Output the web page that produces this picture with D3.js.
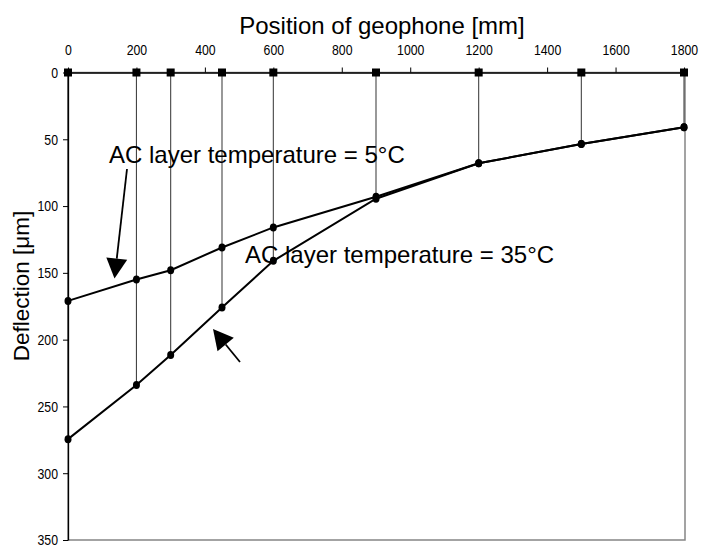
<!DOCTYPE html>
<html><head><meta charset="utf-8">
<script src="https://cdn.jsdelivr.net/npm/d3@7"></script>
<style>body{margin:0;background:#fff}svg{display:block}</style>
</head><body>
<svg id="c" width="701" height="545"></svg>
<script>
const positions = [0, 200, 300, 450, 600, 900, 1200, 1500, 1800];
const defl5 = [171, 155, 148, 131, 116, 93, 68, 53.5, 41];
const defl35 = [274.5, 234, 211.5, 176, 141, 94.5, 68, 53.5, 41];
const xTicks = [0, 200, 400, 600, 800, 1000, 1200, 1400, 1600, 1800];
const yTicks = [0, 50, 100, 150, 200, 250, 300, 350];
const label5 = "AC layer temperature = 5°C";
const label35 = "AC layer temperature = 35°C";

const svg = d3.select("#c");
const x = d3.scaleLinear().domain([0, 1800]).range([68, 684]);
const y = d3.scaleLinear().domain([0, 350]).range([72.5, 540]);
const font = "'Liberation Sans',Arial,sans-serif";
const sx = 0.82;

// plot border (gray right/bottom)
svg.append("rect").attr("x", x(0)).attr("y", y(0)).attr("width", x(1800) - x(0) + 1).attr("height", y(350) - y(0))
  .attr("fill", "none").attr("stroke", "#858585").attr("stroke-width", 1.5);

// drop lines
svg.append("g").selectAll("line").data(positions).join("line")
  .attr("x1", d => x(d)).attr("x2", d => x(d))
  .attr("y1", y(0)).attr("y2", (d, i) => y(Math.max(defl5[i], defl35[i])))
  .attr("stroke", "#444").attr("stroke-width", 1.1);

// axes
const xAxis = d3.axisTop(x).tickValues(xTicks).tickFormat(d3.format("d")).tickSize(5).tickSizeOuter(0).tickPadding(13);
const gx = svg.append("g").attr("transform", `translate(0,${y(0)})`).call(xAxis);
gx.select(".domain").attr("stroke", "#000").attr("stroke-width", 1.6);
gx.selectAll("text").attr("font-family", font).attr("font-size", 15).attr("fill", "#000")
  .attr("transform", `scale(${sx},1)`);

const yAxis = d3.axisLeft(y).tickValues(yTicks).tickFormat(d3.format("d")).tickSize(5).tickSizeOuter(0).tickPadding(5);
const gy = svg.append("g").attr("transform", `translate(${x(0)},0)`).call(yAxis);
gy.select(".domain").attr("stroke", "#000").attr("stroke-width", 1.3);
gy.selectAll("text").attr("font-family", font).attr("font-size", 15).attr("fill", "#000")
  .attr("x", -10 / sx).attr("transform", `scale(${sx},1)`);

// series lines
const line = d3.line().x(d => x(d[0])).y(d => y(d[1]));
[defl5, defl35].forEach(vals => {
  const pts = positions.map((p, i) => [p, vals[i]]);
  svg.append("path").attr("d", line(pts)).attr("fill", "none").attr("stroke", "#000").attr("stroke-width", 2);
  svg.append("g").selectAll("ellipse").data(pts).join("ellipse")
    .attr("cx", d => x(d[0])).attr("cy", d => y(d[1])).attr("rx", 3.5).attr("ry", 4).attr("fill", "#000");
});

// square markers at deflection 0
svg.append("g").selectAll("rect").data(positions).join("rect")
  .attr("x", d => x(d) - 4).attr("y", y(0) - 4).attr("width", 8).attr("height", 8).attr("fill", "#000");

// titles
svg.append("text").attr("x", 382).attr("y", 33.5).attr("text-anchor", "middle")
  .attr("font-family", font).attr("font-size", 24).text("Position of geophone [mm]");
svg.append("text").attr("transform", "translate(29,286) rotate(-90)").attr("text-anchor", "middle")
  .attr("font-family", font).attr("font-size", 22.5).text("Deflection [μm]");

// annotations
svg.append("text").attr("x", 109).attr("y", 163).attr("font-family", font).attr("font-size", 24).text(label5);
svg.append("text").attr("x", 245).attr("y", 263).attr("font-family", font).attr("font-size", 24).text(label35);

function arrow(x1, y1, x2, y2) {
  const ang = Math.atan2(y2 - y1, x2 - x1);
  const L = 20, W = 10.5;
  const bx = x2 - L * Math.cos(ang), by = y2 - L * Math.sin(ang);
  svg.append("line").attr("x1", x1).attr("y1", y1).attr("x2", bx).attr("y2", by).attr("stroke", "#000").attr("stroke-width", 1.8);
  const px = -Math.sin(ang) * W, py = Math.cos(ang) * W;
  svg.append("path").attr("d", `M${x2},${y2}L${bx + px},${by + py}L${bx - px},${by - py}Z`).attr("fill", "#000");
}
arrow(127, 169, 114.5, 278.5);
arrow(240, 362, 213, 329);
</script>
</body></html>
